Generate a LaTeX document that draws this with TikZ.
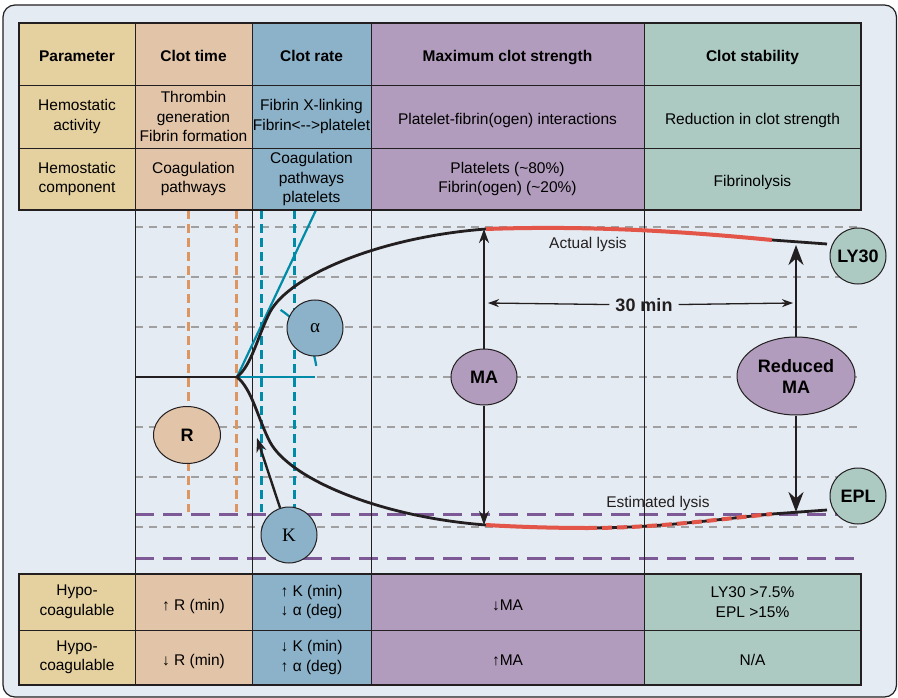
\documentclass[tikz,border=0pt]{standalone}
\usepackage{fontspec}
\setmainfont{Liberation Sans}
\newfontfamily\greekserif{Liberation Serif}
\usepackage{tikz}
\usetikzlibrary{arrows.meta, positioning, shapes.geometric}
\definecolor{tegbg}{RGB}{228,235,242}
\definecolor{parcol}{RGB}{229,208,160}
\definecolor{timecol}{RGB}{226,196,168}
\definecolor{ratecol}{RGB}{139,178,201}
\definecolor{macol}{RGB}{178,156,189}
\definecolor{stabcol}{RGB}{172,201,194}
\definecolor{tegteal}{RGB}{0,139,168}
\definecolor{tegorange}{RGB}{219,150,98}
\definecolor{tegpurple}{RGB}{125,90,150}
\definecolor{tegred}{RGB}{226,85,72}
\definecolor{tegline}{RGB}{35,31,32}
\definecolor{tegdash}{RGB}{160,160,160}

\begin{document}
\begin{tikzpicture}[x=1pt, y=-1pt,
    cell/.style={rectangle, draw=tegline, line width=0.9pt, inner sep=0pt,
      align=center, font=\fontsize{15.5}{19.5}\selectfont},
    head/.style={cell, font=\fontsize{15.5}{19.5}\selectfont\bfseries},
    oneline/.style={text height=16pt, text depth=0pt},
    colA/.style={minimum width=116pt, fill=parcol},
    colB/.style={minimum width=117pt, fill=timecol},
    colC/.style={minimum width=119pt, fill=ratecol},
    colD/.style={minimum width=273pt, fill=macol},
    colE/.style={minimum width=217pt, fill=stabcol},
    marker/.style={draw=tegline, line width=1pt, inner sep=0pt,
      font=\fontsize{18}{21}\selectfont\bfseries},
    lbl/.style={inner sep=0pt, text=tegline, font=\fontsize{15.5}{18}\selectfont},
    gridline/.style={tegdash, line width=1.1pt, dash pattern=on 8pt off 6pt},
    limitline/.style={tegpurple, line width=3pt, dash pattern=on 19pt off 9pt},
    colline/.style={tegline, line width=1pt},
    rline/.style={tegorange, line width=3pt, dash pattern=on 9pt off 5pt},
    kline/.style={tegteal, line width=3pt, dash pattern=on 9pt off 5pt},
    angline/.style={tegteal, line width=2.2pt},
    trace/.style={tegline, line width=2.8pt},
    lysis/.style={tegred, line width=4pt},
    lysisdash/.style={lysis, dash pattern=on 10pt off 5pt},
    maarr/.style={-{Stealth[length=14pt, width=10pt]}, tegline, line width=1.8pt},
    rmaarr/.style={-{Stealth[length=20pt, width=15pt]}, tegline, line width=2.6pt},
    spanarr/.style={-{Stealth[length=11pt, width=8pt]}, tegline, line width=1.3pt},
    karr/.style={-{Stealth[length=14pt, width=10pt]}, tegline, line width=2.4pt}]
  \useasboundingbox (0,0) rectangle (898,698);
  \draw[tegline, line width=1.2pt, fill=tegbg, rounded corners=12pt] (3,5) rectangle (896.5,697);

  \draw[gridline] (135,227) -- (861,227);
  \draw[gridline] (135,277) -- (861,277);
  \draw[gridline] (135,327) -- (861,327);
  \draw[gridline] (135,377) -- (861,377);
  \draw[gridline] (135,427) -- (861,427);
  \draw[gridline] (135,477) -- (861,477);
  \draw[gridline] (135,527) -- (861,527);
  \draw[limitline] (135,514) -- (861,514);
  \draw[limitline] (135,558) -- (861,558);

  \draw[colline] (135,210) -- (135,574);
  \draw[colline] (252,210) -- (252,574);
  \draw[colline] (371,210) -- (371,574);
  \draw[colline] (644,210) -- (644,574);

  \draw[rline] (188,210) -- (188,512);
  \draw[rline] (236,210) -- (236,512);
  \draw[kline] (261,210) -- (261,512);
  \draw[kline] (294,210) -- (294,512);

  \coordinate (start) at (135,377);
  \coordinate (split) at (237,377);
  \coordinate (tangent) at (316,210);
  \coordinate (level) at (315,377);
  \draw[angline] (split) -- (tangent);
  \draw[angline] (split) -- (level);
  \draw[angline] (split) ++(-8:80) arc[start angle=-8, end angle=-57, radius=80];

  \coordinate (u1) at (486,229);
  \coordinate (u2) at (772,240);
  \coordinate (u3) at (827,244);
  \coordinate (l1) at (486,525);
  \coordinate (l2) at (587,528);
  \coordinate (l3) at (772,514);
  \coordinate (l4) at (827,510);
  \draw[trace] (start) -- (split);
  \draw[trace] (split) .. controls (252,365) and (258,335) .. (270,312)
    .. controls (290,275) and (380,237) .. (u1);
  \draw[trace] (split) .. controls (252,389) and (258,419) .. (270,442)
    .. controls (290,479) and (380,517) .. (l1);
  \draw[lysis] (u1) .. controls (600,225) and (700,233) .. (u2);
  \draw[trace] (u2) -- (u3);
  \draw[lysis] (l1) .. controls (520,527) and (555,528) .. (l2);
  \draw[trace] (l2) .. controls (660,528) and (720,519) .. (l3);
  \draw[lysisdash] (l2) .. controls (660,528) and (720,519) .. (l3);
  \draw[trace] (l3) -- (l4);

  \node[lbl] (actual) at (588,244) {Actual lysis};
  \node[lbl] (estimated) at (658,503) {Estimated lysis};

  \node[marker, ellipse, fill=timecol, minimum width=67pt, minimum height=57pt] (rnode) at (187,435) {R};
  \node[marker, circle, fill=ratecol, minimum size=56pt,
    font=\fontsize{19}{21}\selectfont\greekserif] (alpha) at (315,328) {α};
  \node[marker, circle, fill=ratecol, minimum size=56pt,
    font=\fontsize{19}{21}\selectfont\greekserif] (knode) at (289,535) {K};
  \node[marker, ellipse, fill=macol, minimum width=66pt, minimum height=56pt] (ma) at (484,377) {MA};
  \node[marker, ellipse, fill=macol, minimum width=118pt, minimum height=78pt, align=center] (rma) at (796,376) {Reduced\\MA};
  \node[marker, circle, fill=stabcol, minimum size=56pt] (ly30) at (858,256) {LY30};
  \node[marker, circle, fill=stabcol, minimum size=56pt] (epl) at (858,496) {EPL};

  \coordinate (katip) at (257,438);
  \coordinate (matop) at (484,229);
  \coordinate (mabot) at (484,525);
  \coordinate (rmatop) at (796,245);
  \coordinate (rmabot) at (796,512);
  \coordinate (spanl) at (488,303);
  \coordinate (spanr) at (793,303);
  \draw[karr] (knode) -- (katip);
  \draw[maarr] (ma) -- (matop);
  \draw[maarr] (ma) -- (mabot);
  \draw[rmaarr] (rma) -- (rmatop);
  \draw[rmaarr] (rma) -- (rmabot);
  \node[lbl, inner sep=6pt, font=\fontsize{18}{21}\selectfont\bfseries] (thirty) at (644,305) {30 min};
  \draw[spanarr] (thirty) -- (spanl);
  \draw[spanarr] (thirty) -- (spanr);

  \node[head, oneline, colA, minimum height=62pt] (t11) at (77,54) {Parameter};
  \node[head, oneline, colB, minimum height=62pt] (t12) at (193.5,54) {Clot time};
  \node[head, oneline, colC, minimum height=62pt] (t13) at (311.5,54) {Clot rate};
  \node[head, oneline, colD, minimum height=62pt] (t14) at (507.5,54) {Maximum clot strength};
  \node[head, oneline, colE, minimum height=62pt] (t15) at (752.5,54) {Clot stability};
  \node[cell, colA, minimum height=63pt] (t21) at (77,116.5) {Hemostatic\\activity};
  \node[cell, colB, minimum height=63pt] (t22) at (193.5,116.5) {Thrombin\\generation\\Fibrin formation};
  \node[cell, colC, minimum height=63pt] (t23) at (311.5,116.5) {Fibrin X-linking\\Fibrin<-{}->platelet};
  \node[cell, oneline, colD, minimum height=63pt] (t24) at (507.5,116.5) {Platelet-fibrin(ogen) interactions};
  \node[cell, oneline, colE, minimum height=63pt] (t25) at (752.5,116.5) {Reduction in clot strength};
  \node[cell, colA, minimum height=62pt] (t31) at (77,179) {Hemostatic\\component};
  \node[cell, colB, minimum height=62pt] (t32) at (193.5,179) {Coagulation\\pathways};
  \node[cell, colC, minimum height=62pt] (t33) at (311.5,179) {Coagulation\\pathways\\platelets};
  \node[cell, colD, minimum height=62pt] (t34) at (507.5,179) {Platelets (\textasciitilde80\%)\\Fibrin(ogen) (\textasciitilde20\%)};
  \node[cell, oneline, colE, minimum height=62pt] (t35) at (752.5,179) {Fibrinolysis};
  \draw[tegline, line width=2pt] (19,23) rectangle (861,210);

  \node[cell, colA, minimum height=56pt] (b11) at (77,602) {Hypo-\\coagulable};
  \node[cell, oneline, colB, minimum height=56pt] (b12) at (193.5,602) {↑ R (min)};
  \node[cell, colC, minimum height=56pt] (b13) at (311.5,602) {↑ K (min)\\↓ α (deg)};
  \node[cell, oneline, colD, minimum height=56pt] (b14) at (507.5,602) {↓MA};
  \node[cell, colE, minimum height=56pt] (b15) at (752.5,602) {LY30 >7.5\%\\EPL >15\%};
  \node[cell, colA, minimum height=55pt] (b21) at (77,657.5) {Hypo-\\coagulable};
  \node[cell, oneline, colB, minimum height=55pt] (b22) at (193.5,657.5) {↓ R (min)};
  \node[cell, colC, minimum height=55pt] (b23) at (311.5,657.5) {↓ K (min)\\↑ α (deg)};
  \node[cell, oneline, colD, minimum height=55pt] (b24) at (507.5,657.5) {↑MA};
  \node[cell, oneline, colE, minimum height=55pt] (b25) at (752.5,657.5) {N/A};
  \draw[tegline, line width=2pt] (19,574) rectangle (861,685);
\end{tikzpicture}
\end{document}
